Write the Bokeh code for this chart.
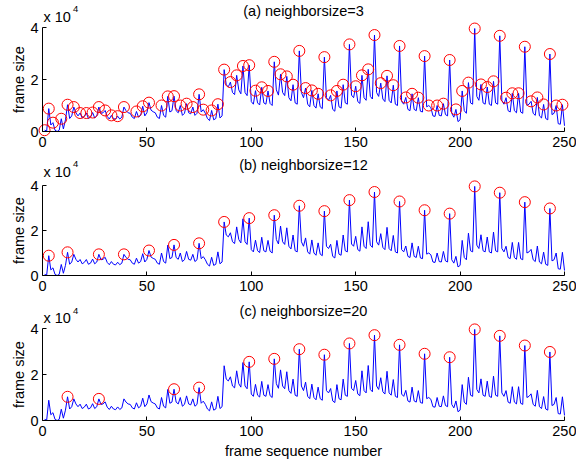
import math
from bokeh.plotting import figure
from bokeh.layouts import column
from bokeh.models import Range1d, Label, FixedTicker
from bokeh.embed import file_html
from bokeh.resources import INLINE

# frame sizes in units of 10^4 bytes, frames 1..250
frame_size = [
    0.05, 0.02, 0.88, 0.25, 0.34, 0.05, 0.00, 0.05, 0.49, 0.10,
    0.45, 1.03, 0.50, 0.60, 0.94, 0.72, 0.60, 0.71, 0.52, 0.58,
    0.71, 0.50, 0.55, 0.73, 0.52, 0.60, 0.94, 0.70, 0.72, 0.81,
    0.58, 0.48, 0.62, 0.50, 0.47, 0.59, 0.48, 0.55, 0.94, 0.80,
    0.72, 0.70, 0.55, 0.50, 0.77, 0.55, 0.62, 0.97, 0.60, 0.72,
    1.11, 0.82, 0.76, 0.72, 0.55, 0.50, 1.00, 0.62, 0.55, 1.35,
    0.75, 0.80, 1.36, 0.80, 0.72, 1.00, 0.62, 0.70, 1.07, 0.72,
    0.68, 0.94, 0.62, 0.70, 1.43, 0.75, 0.84, 0.70, 0.50, 0.42,
    0.81, 0.45, 0.50, 1.05, 0.52, 0.60, 2.38, 1.80, 1.72, 1.90,
    1.50, 1.42, 2.16, 1.60, 1.45, 2.52, 1.50, 1.38, 2.55, 1.15,
    1.05, 1.57, 1.10, 1.02, 1.70, 1.10, 1.05, 1.56, 1.08, 1.00,
    2.68, 1.60, 1.40, 2.20, 1.50, 1.38, 2.12, 1.30, 1.18, 1.80,
    1.10, 1.05, 3.10, 1.50, 1.30, 1.67, 1.05, 0.95, 1.58, 1.00,
    0.90, 1.45, 0.95, 0.88, 2.86, 1.30, 1.20, 1.39, 0.85, 0.78,
    1.56, 0.95, 0.90, 1.80, 1.10, 1.05, 3.35, 1.40, 1.30, 1.74,
    1.15, 1.08, 2.16, 1.30, 1.20, 2.39, 1.35, 1.25, 3.71, 1.50,
    1.35, 1.86, 1.25, 1.15, 2.14, 1.20, 1.10, 1.78, 1.05, 1.00,
    3.29, 1.15, 1.05, 1.31, 0.85, 0.80, 1.45, 0.85, 0.80, 1.30,
    0.78, 0.75, 2.90, 0.95, 1.00, 0.92, 0.60, 0.58, 1.00, 0.62,
    0.60, 1.07, 0.65, 0.60, 2.75, 0.70, 0.55, 0.85, 0.38, 0.45,
    1.56, 0.80, 0.70, 1.88, 1.10, 1.05, 3.96, 1.35, 1.20, 1.81,
    1.10, 1.05, 1.71, 1.05, 1.00, 1.93, 1.10, 1.05, 3.68, 1.20,
    1.05, 1.30, 0.80, 0.75, 1.47, 0.80, 0.72, 1.47, 0.75, 0.70,
    3.26, 1.00, 1.05, 1.16, 0.70, 0.62, 1.31, 0.60, 0.52, 1.04,
    0.50, 0.45, 2.98, 0.65, 0.70, 1.00, 0.30, 0.28, 1.03, 0.22,
]
frames = list(range(1, len(frame_size) + 1))

peaks_a = [1, 3, 5, 9, 12, 15, 18, 21, 24, 27, 30, 33, 36, 39, 45, 48, 51, 57,
           60, 63, 66, 69, 72, 75, 77, 81, 84, 87, 90, 93, 96, 99, 102, 105,
           108, 111, 114, 117, 120, 123, 126, 129, 132, 135, 138, 141, 144,
           147, 150, 153, 156, 159, 162, 165, 168, 171, 174, 177, 180, 183,
           185, 189, 192, 195, 198, 201, 204, 207, 210, 213, 216, 219, 222,
           225, 228, 231, 234, 237, 240, 243, 246, 249]
peaks_b = [3, 12, 27, 39, 51, 63, 75, 87, 99, 111, 123, 135, 147, 159, 171,
           183, 195, 207, 219, 231, 243]
peaks_c = [12, 27, 63, 75, 99, 111, 123, 135, 147, 159, 171, 183, 195, 207,
           219, 231, 243]

titles = ["(a) neighborsize=3", "(b) neighborsize=12", "(c) neighborsize=20"]
x_ticks = [0, 50, 100, 150, 200, 250]
y_ticks = [0, 2, 4]
y_label = "frame size"
x_label = "frame sequence number"
exp_base = "x 10"
exp_power = "4"

FONT = "Liberation Sans"
FS = "14.5px"
W = 576
AX_LEFT = 42          # page x of frame number 0
AX_RIGHT = 564        # page x of frame number 250
S = (AX_RIGHT - AX_LEFT) / 250.0   # px per frame
SHIFT = 5.0           # correction for label text placement (px)
SHIFT_SMALL = 3.5

# per panel (page y): figure top, y=4 level, y=0 level, figure bottom,
# title baseline, "x 10" baseline, superscript baseline
panels_geo = [
    (0, 27, 131, 154, 15.5, 21.7, 11.7),
    (154, 185, 275, 300, 169.5, 176.7, 166.7),
    (300, 328, 420, 461, 315.3, 322.3, 314.0),
]
XLABEL_BASELINE = 455.5
YLABEL_X = 23.3
peak_sets = [peaks_a, peaks_b, peaks_c]

children = []
for k, (top, y4, y0, bot, tb, eb, sb) in enumerate(panels_geo):
    u = (y0 - y4) / 4.0  # px per unit
    p = figure(width=W, height=bot - top,
               x_range=Range1d(-AX_LEFT / S, 250 + (W - AX_RIGHT) / S),
               y_range=Range1d(-(bot - y0) / u, (y0 - top) / u),
               output_backend="svg", toolbar_location=None,
               min_border=0)
    p.outline_line_color = None
    p.xgrid.visible = False
    p.ygrid.visible = False

    for ax in (p.xaxis[0], p.yaxis[0]):
        ax.major_tick_in = 4
        ax.major_tick_out = 0
        ax.minor_tick_in = 0
        ax.minor_tick_out = 0
        ax.axis_line_color = "black"
        ax.major_tick_line_color = "black"
        ax.major_label_text_font = FONT
        ax.major_label_text_font_size = FS
        ax.major_label_text_color = "black"
    p.xaxis.ticker = FixedTicker(ticks=x_ticks)
    p.yaxis.ticker = FixedTicker(ticks=y_ticks)
    p.xaxis.bounds = (0, 250)
    p.yaxis.bounds = (0, 4)
    p.xaxis.fixed_location = 0
    p.yaxis.fixed_location = 0
    p.xaxis.major_label_standoff = 5
    p.yaxis.major_label_standoff = 4

    p.line(frames, frame_size, line_color="#0000FF", line_width=1)
    px = [frames[i - 1] for i in peak_sets[k]]
    py = [frame_size[i - 1] for i in peak_sets[k]]
    p.scatter(px, py, size=11, fill_color=None, line_color="#FF0000",
              line_width=1)

    def dx(page_x):
        return (page_x - AX_LEFT) / S

    def dy(page_y):
        return (y0 - page_y) / u

    p.add_layout(Label(x=125, y=dy(tb - SHIFT), text=titles[k],
                       text_font=FONT, text_font_size=FS, text_align="center",
                       text_baseline="alphabetic", text_color="black"))
    p.add_layout(Label(x=dx(43), y=dy(eb - SHIFT), text=exp_base,
                       text_font=FONT, text_font_size=FS, text_align="left",
                       text_baseline="alphabetic", text_color="black"))
    p.add_layout(Label(x=dx(72.5), y=dy(sb - SHIFT_SMALL), text=exp_power,
                       text_font=FONT, text_font_size="9.5px", text_align="left",
                       text_baseline="alphabetic", text_color="black"))
    p.add_layout(Label(x=dx(YLABEL_X - SHIFT), y=2, text=y_label,
                       angle=math.pi / 2,
                       text_font=FONT, text_font_size=FS, text_align="center",
                       text_baseline="alphabetic", text_color="black"))
    if k == 2:
        p.add_layout(Label(x=125, y=dy(XLABEL_BASELINE - SHIFT), text=x_label,
                           text_font=FONT, text_font_size=FS,
                           text_align="center", text_baseline="alphabetic",
                           text_color="black"))
    children.append(p)

layout = column(*children)
open("out.html", "w").write(file_html(layout, INLINE))
